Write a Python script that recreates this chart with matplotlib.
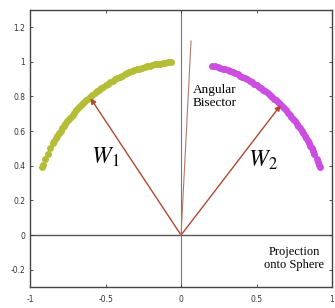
from matplotlib import pyplot as plt
import numpy as np

# angles (degrees) of the projected points
green_deg = [157, 156, 154, 152, 150, 148, 147, 146, 145, 144, 143, 142, 141, 140, 139, 138,
             137, 136, 135, 134, 133, 132, 131, 130, 129, 128, 127, 126, 125, 124, 123, 122,
             121, 120, 119, 118, 117, 116, 115, 114, 113, 112, 111, 110, 109, 108, 107, 106,
             105, 104, 103, 102, 101, 100, 99, 98, 97, 96, 95, 94]
magenta_deg = [78, 77, 76, 75, 74, 73, 72, 71, 70, 69, 68, 67, 66, 65, 64, 63, 62, 61, 60,
               59, 58, 57, 56, 55, 54, 53, 52, 51, 50, 49, 48, 47, 46, 45, 44, 43, 42, 41,
               40, 39, 38, 37, 36, 35, 34, 33, 32, 31, 30, 29, 28, 26, 25, 24, 23]
w1 = (-0.6, 0.79)
w2 = (0.66, 0.75)
bisector = (0.066, 1.12)

xticks = [-1, -0.5, 0, 0.5, 1]
yticks = [-0.2, 0, 0.2, 0.4, 0.6, 0.8, 1, 1.2]

fig = plt.figure(figsize=(3.35, 3.08), dpi=100)
ax = fig.add_axes([0.09, 0.068, 0.901, 0.9])

ax.axhline(0, color='#555555', lw=1.0, zorder=1)
ax.axvline(0, color='#777777', lw=0.8, zorder=1)

g = np.radians(green_deg)
m = np.radians(magenta_deg)
ax.plot(np.cos(g), np.sin(g), 'o', color='#b3bd35', ms=5, mec='none', zorder=2)
ax.plot(np.cos(m), np.sin(m), 'o', color='#cc4ee0', ms=5, mec='none', zorder=2)

for tip in (w1, w2):
    ax.annotate('', xy=tip, xytext=(0, 0),
                arrowprops=dict(arrowstyle='-|>', color='#b0492e', lw=1.0,
                                mutation_scale=8, shrinkA=0, shrinkB=0), zorder=3)
ax.plot([0, bisector[0]], [0, bisector[1]], color='#b07a6a', lw=0.8, zorder=3)

serif = ['Liberation Serif', 'DejaVu Serif']
ax.text(-0.5, 0.45, r'$\mathbf{\mathit{W}}_\mathit{1}$', fontsize=17, family=serif, ha='center',
        va='center', math_fontfamily='stix')
ax.text(0.54, 0.43, r'$\mathbf{\mathit{W}}_\mathit{2}$', fontsize=17, family=serif, ha='center',
        va='center', math_fontfamily='stix')
ax.text(0.075, 0.8, 'Angular\nBisector', fontsize=9.5, family=serif, ha='left', va='center',
        linespacing=1.1)
ax.text(0.95, -0.135, 'Projection\nonto Sphere', fontsize=9, family=serif, ha='right',
        va='center', linespacing=1.2, multialignment='center')

ax.set_xlim(-1, 1)
ax.set_ylim(-0.3, 1.3)
ax.set_xticks(xticks)
ax.set_yticks(yticks)
ax.set_xticklabels(['-1', '-0.5', '0', '0.5', '1'])
ax.set_yticklabels(['-0.2', '0', '0.2', '0.4', '0.6', '0.8', '1', '1.2'])
ax.tick_params(direction='in', length=2, width=0.6, labelsize=5.5, colors='#333333',
               top=True, right=True)
ax.tick_params(axis='x', pad=6)
for s in ax.spines.values():
    s.set_color('#444444')
    s.set_linewidth(1.0)

plt.savefig('out.png', dpi=100)
